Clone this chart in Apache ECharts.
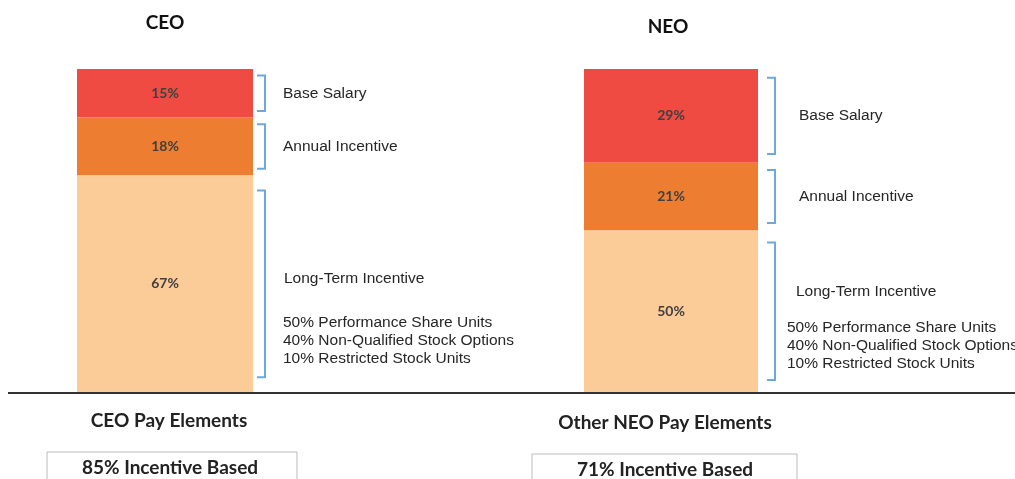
<!DOCTYPE html>
<html>
<head>
<meta charset="utf-8">
<script src="https://cdn.jsdelivr.net/npm/echarts@6/dist/echarts.min.js"></script>
<style>
  html, body { margin: 0; padding: 0; background: #fff; }
  #chart { width: 1015px; height: 479px; }
</style>
</head>
<body>
<div id="chart"></div>
<script>
// data
const panels = ['CEO', 'NEO'];
const segments = ['Base Salary', 'Annual Incentive', 'Long-Term Incentive'];
const ceoValues = [15, 18, 67];
const neoValues = [29, 21, 50];
const ltiDetails = ['50% Performance Share Units', '40% Non-Qualified Stock Options', '10% Restricted Stock Units'];
const subtitles = ['CEO Pay Elements', 'Other NEO Pay Elements'];
const incentiveTotals = ['85% Incentive Based', '71% Incentive Based'];

const segColors = ['#EF4B43', '#ED7D31', '#FBCB98'];
const labelFont = '15.5px "Liberation Sans", Arial, sans-serif';
const boldFont = 'bold 19px Lato, "Open Sans", sans-serif';

// per panel layout (pixels)
const layouts = [
  { left: 77, width: 176, bracketGap: 12, textGap: 18, ltiTitleDx: 19, ltiTitleDy: -5, detailsDx: 18, detailsDy: 39 },
  { left: 584, width: 174, bracketGap: 17, textGap: 24, ltiTitleDx: 21, ltiTitleDy: -20, detailsDx: 12, detailsDy: 16 }
];

const chart = echarts.init(document.getElementById('chart'));

const grids = [], xAxes = [], yAxes = [], series = [];

[ceoValues, neoValues].forEach((values, p) => {
  const lay = layouts[p];
  grids.push({ left: lay.left, width: lay.width, top: 69, height: 323 });
  xAxes.push({ type: 'category', gridIndex: p, data: [panels[p]], show: false });
  yAxes.push({ type: 'value', gridIndex: p, min: 0, max: 100, inverse: true, show: false });

  values.forEach((v, i) => {
    series.push({
      type: 'bar',
      name: segments[i],
      xAxisIndex: p,
      yAxisIndex: p,
      stack: 'pay' + p,
      barWidth: '100%',
      data: [v],
      itemStyle: { color: segColors[i] },
      label: {
        show: true,
        position: 'inside',
        formatter: '{c}%',
        color: '#404040',
        fontFamily: 'Lato, sans-serif',
        fontWeight: 'bold',
        fontSize: 14
      },
      silent: true
    });
  });

  // brackets and their texts
  let acc = 0;
  const bdata = values.map((v, i) => {
    const d = [0, acc, acc + v, i];
    acc += v;
    return d;
  });
  series.push({
    type: 'custom',
    xAxisIndex: p,
    yAxisIndex: p,
    data: bdata,
    encode: { x: 0, y: [1, 2] },
    clip: false,
    silent: true,
    renderItem: function (params, api) {
      const i = api.value(3);
      const y0 = api.coord([0, api.value(1)])[1];
      const y1 = api.coord([0, api.value(2)])[1];
      const xc = api.coord([0, 0])[0];
      const right = xc + api.size([1, 0])[0] / 2;
      const h = y1 - y0;
      const inset = 4 + 0.05 * h;
      const top = y0 + inset, bot = y1 - inset;
      const bx = right + lay.bracketGap;
      const mid = (top + bot) / 2;
      const children = [{
        type: 'polyline',
        shape: { points: [[bx - 8, top], [bx, top], [bx, bot], [bx - 8, bot]] },
        style: { stroke: '#6FA8DC', lineWidth: 2, fill: null }
      }];
      if (i < 2) {
        children.push({
          type: 'text',
          style: { text: segments[i], x: bx + lay.textGap, y: mid, fill: '#262626', font: labelFont, textVerticalAlign: 'middle' }
        });
      } else {
        children.push({
          type: 'text',
          style: { text: segments[i], x: bx + lay.ltiTitleDx, y: mid + lay.ltiTitleDy, fill: '#262626', font: labelFont, textVerticalAlign: 'middle' }
        });
        ltiDetails.forEach((t, k) => {
          children.push({
            type: 'text',
            style: { text: t, x: bx + lay.detailsDx, y: mid + lay.detailsDy + k * 18, fill: '#262626', font: labelFont, textVerticalAlign: 'middle' }
          });
        });
      }
      return { type: 'group', children: children };
    }
  });
});

chart.setOption({
  animation: false,
  grid: grids,
  xAxis: xAxes,
  yAxis: yAxes,
  series: series,
  graphic: [
    { type: 'line', shape: { x1: 8, y1: 393, x2: 1015, y2: 393 }, style: { stroke: '#333', lineWidth: 2 } },
    { type: 'text', style: { text: panels[0], x: 165, y: 23, textAlign: 'center', textVerticalAlign: 'middle', font: boldFont, fill: '#111' } },
    { type: 'text', style: { text: panels[1], x: 668, y: 27, textAlign: 'center', textVerticalAlign: 'middle', font: boldFont, fill: '#111' } },
    { type: 'text', style: { text: subtitles[0], x: 169, y: 421, textAlign: 'center', textVerticalAlign: 'middle', font: boldFont, fill: '#222' } },
    { type: 'text', style: { text: subtitles[1], x: 665, y: 423, textAlign: 'center', textVerticalAlign: 'middle', font: boldFont, fill: '#222' } },
    { type: 'rect', shape: { x: 47, y: 452, width: 250, height: 40 }, style: { fill: '#fff', stroke: '#bbb', lineWidth: 1 } },
    { type: 'rect', shape: { x: 532, y: 454, width: 265, height: 40 }, style: { fill: '#fff', stroke: '#bbb', lineWidth: 1 } },
    { type: 'text', style: { text: incentiveTotals[0], x: 170, y: 468, textAlign: 'center', textVerticalAlign: 'middle', font: boldFont, fill: '#222' } },
    { type: 'text', style: { text: incentiveTotals[1], x: 665, y: 470, textAlign: 'center', textVerticalAlign: 'middle', font: boldFont, fill: '#222' } }
  ]
});
</script>
</body>
</html>
